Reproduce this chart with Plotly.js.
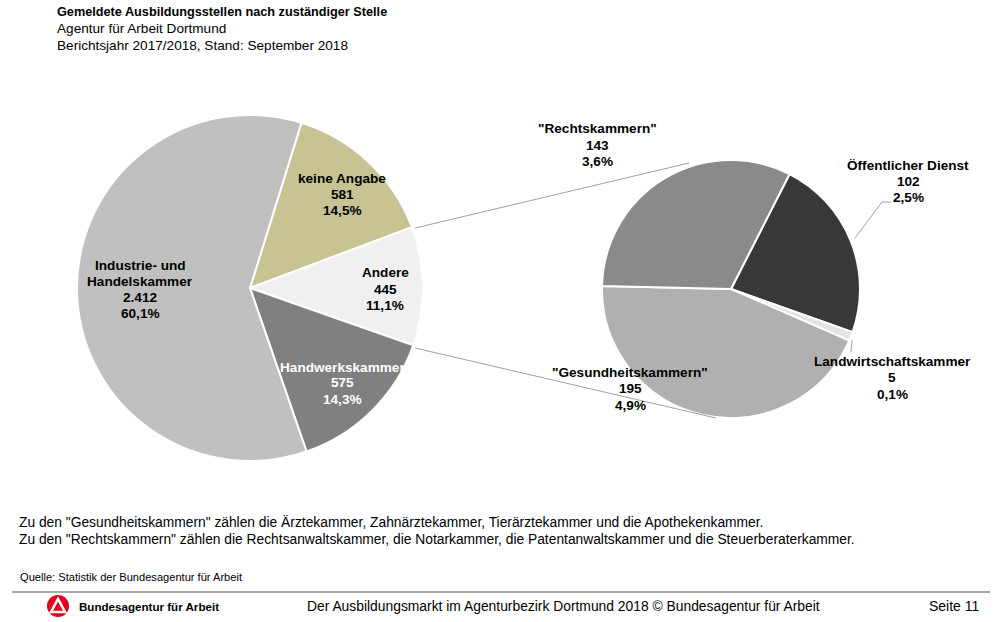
<!DOCTYPE html>
<html>
<head>
<meta charset="utf-8">
<script src="https://cdn.plot.ly/plotly-3.0.1.min.js"></script>
<style>html,body{margin:0;padding:0;background:#fff;}#chart{width:999px;height:622px;}</style>
</head>
<body>
<div id="chart"></div>
<script>
// ---- data ----
const leftLabels = ["keine Angabe", "Andere", "Handwerkskammer", "Industrie- und Handelskammer"];
const leftValues = [581, 445, 575, 2412];
const leftColors = ["#c8c393", "#f0f0f0", "#808080", "#c0c0c0"];

const rightLabels = ["Öffentlicher Dienst", "Landwirtschaftskammer", "\"Gesundheitskammern\"", "\"Rechtskammern\""];
const rightValues = [102, 5, 195, 143];
const rightColors = ["#383838", "#e4e4e4", "#b0b0b0", "#8a8a8a"];

const titleLines = ["Gemeldete Ausbildungsstellen nach zuständiger Stelle", "Agentur für Arbeit Dortmund", "Berichtsjahr 2017/2018, Stand: September 2018"];
const noteLines = [
  "Zu den \"Gesundheitskammern\" zählen die Ärztekammer, Zahnärztekammer, Tierärztekammer und die Apothekenkammer.",
  "Zu den \"Rechtskammern\" zählen die Rechtsanwaltskammer, die Notarkammer, die Patentanwaltskammer und die Steuerberaterkammer."
];
const sourceText = "Quelle: Statistik der Bundesagentur für Arbeit";
const footerOrg = "Bundesagentur für Arbeit";
const footerText = "Der Ausbildungsmarkt im Agenturbezirk Dortmund 2018 © Bundesagentur für Arbeit";
const pageText = "Seite 11";

// ---- helpers ----
const W = 999, H = 622;
const px = x => x / W;
const py = y => 1 - y / H;
const FONT = "Liberation Sans, Arial, sans-serif";
const total = leftValues.reduce((a, b) => a + b, 0);
const fmtNum = v => String(v).replace(/\B(?=(\d{3})+(?!\d))/g, ".");
const fmtPct = v => (v / total * 100).toFixed(1).replace(".", ",") + "%";

const annotations = [];
function block(cx, cy, lines, color, dy) {
  lines.forEach((t, i) => {
    annotations.push({
      xref: "paper", yref: "paper", x: px(cx), y: py(cy + i * dy),
      xanchor: "center", yanchor: "middle", showarrow: false, text: "<b>" + t + "</b>",
      font: {family: FONT, size: 13.6, color: color}
    });
  });
}
function sliceLines(label, value) {
  return [label, fmtNum(value), fmtPct(value)];
}

// left pie labels
const leftPos = [[342, 178.5, "#000"], [385, 273, "#000"], [342, 367, "#fff"], [140, 265, "#000"]];
leftLabels.forEach((l, i) => {
  const lines = i === 3 ? [l.slice(0, 14), l.slice(15), fmtNum(leftValues[i]), fmtPct(leftValues[i])] : sliceLines(l, leftValues[i]);
  block(leftPos[i][0], leftPos[i][1], lines, leftPos[i][2], 16);
});
// right pie labels
const rightPos = [[908, 165], [892, 361], [630, 372], [597, 128.5]];
rightLabels.forEach((l, i) => {
  block(rightPos[i][0], rightPos[i][1], sliceLines(l, rightValues[i]), "#000", 16.5);
});

// title & texts
titleLines.forEach((t, i) => {
  annotations.push({xref: "paper", yref: "paper", x: px(55), y: py(12.5 + i * 16.5), xanchor: "left", yanchor: "middle",
    showarrow: false, text: i === 0 ? "<b>" + t + "</b>" : t, font: {family: FONT, size: i === 0 ? 12.7 : 13.6, color: "#000"}});
});
noteLines.forEach((t, i) => {
  annotations.push({xref: "paper", yref: "paper", x: px(17), y: py(522 + i * 17), xanchor: "left", yanchor: "middle",
    showarrow: false, text: t, font: {family: FONT, size: 13.8, color: "#000"}});
});
annotations.push({xref: "paper", yref: "paper", x: px(18), y: py(577), xanchor: "left", yanchor: "middle",
  showarrow: false, text: sourceText, font: {family: FONT, size: 11.1, color: "#000"}});
annotations.push({xref: "paper", yref: "paper", x: px(77), y: py(606), xanchor: "left", yanchor: "middle",
  showarrow: false, text: "<b>" + footerOrg + "</b>", font: {family: FONT, size: 11.6, color: "#000"}});
annotations.push({xref: "paper", yref: "paper", x: px(563), y: py(606), xanchor: "center", yanchor: "middle",
  showarrow: false, text: footerText, font: {family: FONT, size: 13.85, color: "#000"}});
annotations.push({xref: "paper", yref: "paper", x: px(982), y: py(606), xanchor: "right", yanchor: "middle",
  showarrow: false, text: pageText, font: {family: FONT, size: 14, color: "#000"}});

// ---- traces ----
const traces = [
  {
    type: "pie", labels: leftLabels, values: leftValues, sort: false, direction: "clockwise", rotation: 17.3,
    marker: {colors: leftColors, line: {color: "#fff", width: 2}}, textinfo: "none", hoverinfo: "label+value+percent",
    domain: {x: [px(77), px(423)], y: [py(461), py(115)]}, showlegend: false
  },
  {
    type: "pie", labels: rightLabels, values: rightValues, sort: false, direction: "clockwise", rotation: 27,
    marker: {colors: rightColors, line: {color: "#fff", width: 2}}, textinfo: "none", hoverinfo: "label+value",
    domain: {x: [px(602), px(860)], y: [py(418), py(160)]}, showlegend: false
  }
];

const lineGray = {color: "#a0a0a0", width: 1};
const shapes = [
  {type: "line", xref: "paper", yref: "paper", x0: px(415), y0: py(228), x1: px(689), y1: py(163), line: lineGray},
  {type: "line", xref: "paper", yref: "paper", x0: px(415), y0: py(348), x1: px(716), y1: py(418), line: lineGray},
  {type: "path", xref: "paper", yref: "paper", path: `M ${px(855)},${py(238)} L ${px(882)},${py(202)} L ${px(891)},${py(202)}`, line: lineGray},
  {type: "line", xref: "paper", yref: "paper", x0: px(852), y0: py(340), x1: px(851), y1: py(352), line: lineGray},
  {type: "line", xref: "paper", yref: "paper", x0: px(12), y0: py(592), x1: px(990), y1: py(592), line: {color: "#8c8c8c", width: 1.5}},
  {type: "circle", xref: "paper", yref: "paper", x0: px(47), y0: py(595), x1: px(69), y1: py(617), fillcolor: "#e2001a", line: {width: 0}},
  {type: "path", xref: "paper", yref: "paper",
   path: `M ${px(51)},${py(612)} L ${px(58)},${py(599)} L ${px(65)},${py(612)} Z`,
   fillcolor: "rgba(0,0,0,0)", line: {color: "#fff", width: 2.6}}
];

const layout = {
  width: W, height: H, margin: {l: 0, r: 0, t: 0, b: 0},
  paper_bgcolor: "#fff", plot_bgcolor: "#fff",
  showlegend: false, annotations: annotations, shapes: shapes,
  font: {family: FONT}
};
Plotly.newPlot("chart", traces, layout, {displayModeBar: false, staticPlot: true});
</script>
</body>
</html>
